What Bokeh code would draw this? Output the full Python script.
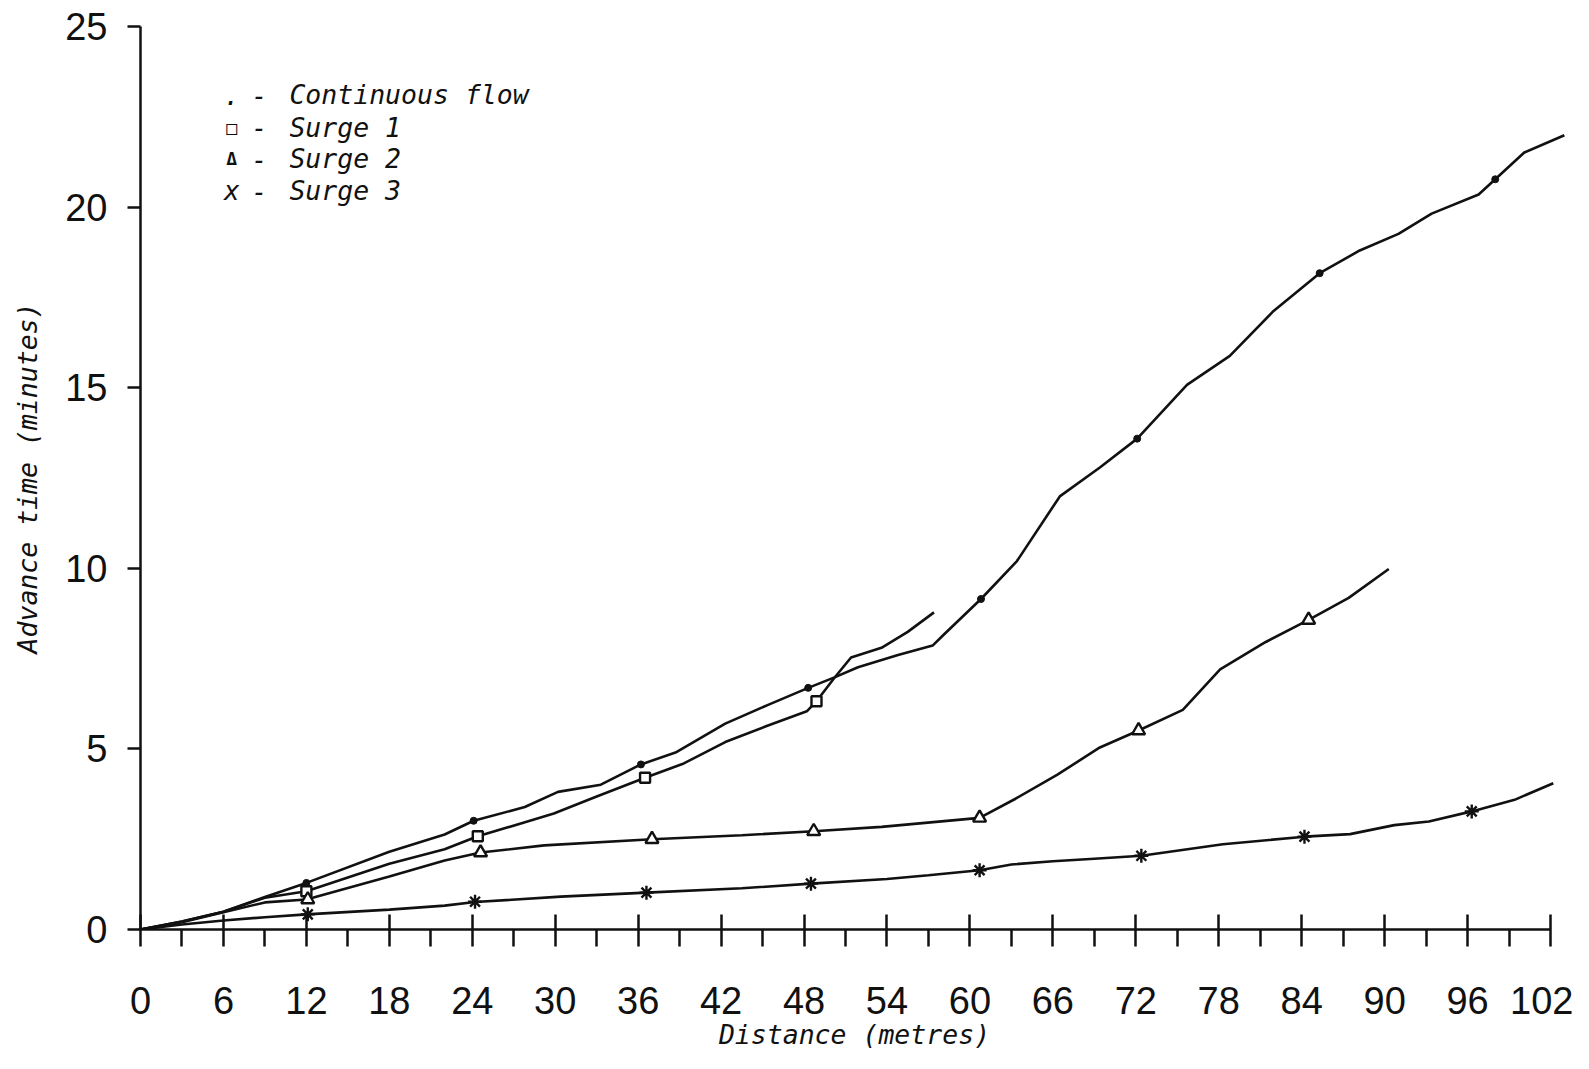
from bokeh.plotting import figure
from bokeh.models import Range1d, FixedTicker, Label
from bokeh.embed import file_html
from bokeh.resources import INLINE

# ---------------- data ----------------
x_ticks = [0, 6, 12, 18, 24, 30, 36, 42, 48, 54, 60, 66, 72, 78, 84, 90, 96, 102]
x_minor = [3, 9, 15, 21, 27, 33, 39, 45, 51, 57, 63, 69, 75, 81, 87, 93, 99]
y_ticks = [0, 5, 10, 15, 20, 25]

# Continuous flow curve
cont_x = [0, 3, 6, 9, 12, 18, 22, 24.1, 27.8, 30.2, 33.3, 36.2, 38.7, 42.3, 45.4, 48.3,
          50.2, 51.9, 54.8, 57.3, 58.1, 60.8, 63.4, 66.5, 69.4, 72.1, 75.7, 78.8, 81.9,
          85.3, 88.2, 91.0, 93.4, 96.8, 98.0, 100.1, 103.0]
cont_y = [0, 0.22, 0.49, 0.9, 1.29, 2.15, 2.63, 3.01, 3.39, 3.81, 4.01, 4.57, 4.90, 5.70, 6.22, 6.69,
          6.98, 7.26, 7.60, 7.86, 8.16, 9.15, 10.2, 11.99, 12.79, 13.59, 15.08, 15.88, 17.10,
          18.17, 18.8, 19.26, 19.82, 20.35, 20.77, 21.51, 21.99]
cont_mx = [12, 24.1, 36.2, 48.3, 60.8, 72.1, 85.3, 98.0]
cont_my = [1.29, 3.01, 4.57, 6.69, 9.15, 13.59, 18.17, 20.77]

# Surge 1 curve
s1_x = [0, 3, 6, 9, 12, 18, 22, 24.4, 29.9, 33.0, 36.5, 39.2, 42.3, 45.2, 48.2, 48.9,
        50.2, 51.4, 53.6, 55.5, 57.4]
s1_y = [0, 0.22, 0.49, 0.88, 1.06, 1.82, 2.22, 2.58, 3.21, 3.68, 4.20, 4.58, 5.19, 5.62, 6.04, 6.32,
        6.97, 7.53, 7.80, 8.24, 8.78]
s1_mx = [12, 24.4, 36.5, 48.9]
s1_my = [1.06, 2.58, 4.20, 6.32]

# Surge 2 curve
s2_x = [0, 3, 6, 9, 12, 18, 22, 24.6, 29.2, 37.0, 43.5, 48.7, 53.6, 60.7, 63.3, 66.3,
        69.4, 72.2, 75.4, 78.1, 81.4, 84.5, 87.4, 90.3]
s2_y = [0, 0.2, 0.48, 0.75, 0.83, 1.47, 1.91, 2.13, 2.33, 2.50, 2.61, 2.72, 2.84, 3.09, 3.62, 4.28,
        5.04, 5.51, 6.08, 7.20, 7.96, 8.57, 9.18, 9.98]
s2_mx = [12.1, 24.6, 37.0, 48.7, 60.7, 72.2, 84.5]
s2_my = [0.83, 2.13, 2.50, 2.72, 3.09, 5.51, 8.57]

# Surge 3 curve
s3_x = [0, 3, 6, 9, 12, 18, 22, 24.2, 30.4, 36.6, 43.5, 48.5, 54, 57, 60.7, 63, 66, 69,
        72.4, 78.3, 84.2, 87.5, 90.7, 93.2, 96.3, 99.4, 102.2]
s3_y = [0, 0.14, 0.25, 0.34, 0.42, 0.55, 0.66, 0.76, 0.91, 1.02, 1.14, 1.27, 1.40, 1.50, 1.64, 1.80,
        1.89, 1.96, 2.04, 2.36, 2.57, 2.64, 2.89, 2.99, 3.27, 3.59, 4.05]
s3_mx = [12.1, 24.2, 36.6, 48.5, 60.7, 72.4, 84.2, 96.3]
s3_my = [0.42, 0.77, 1.02, 1.27, 1.64, 2.04, 2.57, 3.27]

legend_symbols = [".", "\u25a1", "\u0394", "x"]
legend_labels = ["Continuous flow", "Surge 1", "Surge 2", "Surge 3"]

x_title = "Distance (metres)"
y_title = "Advance time (minutes)"

# ---------------- figure ----------------
p = figure(width=1573, height=1053, output_backend="svg", toolbar_location=None,
           x_range=Range1d(0, 103.3), y_range=Range1d(0, 25),
           min_border_left=140, min_border_right=5, min_border_top=26, min_border_bottom=124)
p.outline_line_color = None
p.grid.visible = False
p.background_fill_color = "white"
p.border_fill_color = "white"

INK = "#111111"
LW = 2.6
MONO = "DejaVu Sans Mono"

p.line(cont_x, cont_y, line_color=INK, line_width=LW)
p.line(s1_x, s1_y, line_color=INK, line_width=LW)
p.line(s2_x, s2_y, line_color=INK, line_width=LW)
p.line(s3_x, s3_y, line_color=INK, line_width=LW)

p.scatter(cont_mx, cont_my, marker="circle", size=7, fill_color=INK, line_color=INK)
p.scatter(s1_mx, s1_my, marker="square", size=10, fill_color="white", line_color=INK, line_width=2.4)
p.scatter(s2_mx, s2_my, marker="triangle", size=13, fill_color="white", line_color=INK, line_width=2.4)
p.scatter(s3_mx, s3_my, marker="asterisk", size=14, line_color=INK, line_width=2.4)

# axes
xa = p.xaxis[0]
xa.ticker = FixedTicker(ticks=x_ticks, minor_ticks=x_minor)
xa.bounds = (0, 102)
xa.axis_line_width = 2.5
xa.axis_line_color = INK
xa.major_tick_line_width = 2.5
xa.minor_tick_line_width = 2.5
xa.major_tick_line_color = INK
xa.minor_tick_line_color = INK
xa.major_tick_in = 15
xa.major_tick_out = 17
xa.minor_tick_in = 0
xa.minor_tick_out = 17
xa.major_label_text_font = "Liberation Sans"
xa.major_label_text_font_size = "38px"
xa.major_label_text_color = INK
xa.major_label_standoff = 40
xa.axis_label = x_title
xa.axis_label_text_font = MONO
xa.axis_label_text_font_style = "italic"
xa.axis_label_text_font_size = "26.5px"
xa.axis_label_text_color = INK
xa.axis_label_standoff = 2

ya = p.yaxis[0]
ya.ticker = FixedTicker(ticks=y_ticks, minor_ticks=[])
ya.bounds = (0, 25)
ya.axis_line_width = 2.5
ya.axis_line_color = INK
ya.major_tick_line_width = 2.5
ya.major_tick_line_color = INK
ya.major_tick_in = 0
ya.major_tick_out = 13
ya.minor_tick_line_color = None
ya.major_label_text_font = "Liberation Sans"
ya.major_label_text_font_size = "38px"
ya.major_label_text_color = INK
ya.major_label_standoff = 20
ya.axis_label = y_title
ya.axis_label_text_font = MONO
ya.axis_label_text_font_style = "italic"
ya.axis_label_text_font_size = "26.5px"
ya.axis_label_text_color = INK
ya.axis_label_standoff = 19

# legend (typed text, as in the original)
leg_y = [23.11, 22.21, 21.34, 20.45]
for i in range(4):
    sym = legend_symbols[i]
    if sym in ("\u25a1", "\u0394"):
        p.add_layout(Label(x=6.6, y=leg_y[i], text=sym, text_font=MONO, text_font_style="bold",
                           text_font_size="18px", text_color=INK,
                           text_align="center", text_baseline="middle"))
    else:
        p.add_layout(Label(x=6.6, y=leg_y[i], text=sym, text_font=MONO, text_font_style="italic",
                           text_font_size="26px", text_color=INK,
                           text_align="center", text_baseline="middle"))
    p.add_layout(Label(x=8.6, y=leg_y[i], text="-", text_font=MONO, text_font_style="italic",
                       text_font_size="26px", text_color=INK,
                       text_align="center", text_baseline="middle"))
    p.add_layout(Label(x=10.77, y=leg_y[i], text=legend_labels[i], text_font=MONO,
                       text_font_style="italic", text_font_size="26.5px", text_color=INK,
                       text_align="left", text_baseline="middle"))

open("out.html", "w").write(file_html(p, INLINE))
